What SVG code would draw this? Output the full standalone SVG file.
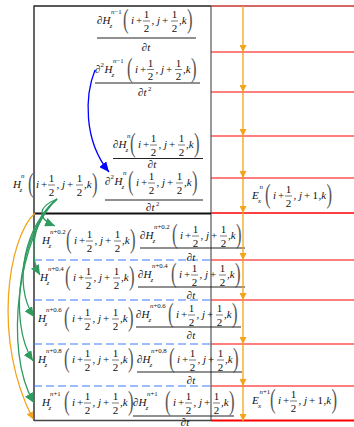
<svg xmlns="http://www.w3.org/2000/svg" width="354" height="427" viewBox="0 0 354 427">
<style>
text{font-family:"Liberation Serif","Times New Roman",serif;fill:#111}
.i{font-size:11px;font-style:italic}
.r{font-size:11px}
.s{font-size:6.8px}
.si{font-size:7px;font-style:italic}
.p{font-size:28px;fill:#555}
.fb{stroke:#222;stroke-width:0.6}
.bar{stroke:#222;stroke-width:1}
.red{stroke:#ff0000;stroke-width:1.2}
.dash{stroke:#3d7bff;stroke-width:1.2;stroke-dasharray:8 4}
.or{stroke:#f5a31a;stroke-width:1.3;marker-end:url(#ao)}
.gr{stroke:#2e9b5f;stroke-width:1.3;fill:none;marker-end:url(#ag)}
</style>
<defs>
<marker id="ao" markerWidth="7" markerHeight="7" refX="7" refY="3.5" orient="auto" markerUnits="userSpaceOnUse"><path d="M0,0 L7,3.5 L0,7 z" fill="#f5a31a"/></marker>
<marker id="ag" markerWidth="10" markerHeight="9" refX="10" refY="4.5" orient="auto" markerUnits="userSpaceOnUse"><path d="M0,0 L10,4.5 L0,9 z" fill="#2e9b5f"/></marker>
<marker id="ab" markerWidth="10" markerHeight="9" refX="10" refY="4.5" orient="auto" markerUnits="userSpaceOnUse"><path d="M0,0 L10,4.5 L0,9 z" fill="#0000ff"/></marker>
</defs>
<rect width="354" height="427" fill="#fff"/>

<g id="grid">
<line x1="34" y1="6" x2="211" y2="6" stroke="#222" stroke-width="1.5"/>
<line x1="211" y1="6" x2="354" y2="6" stroke="#c83232" stroke-width="1.6"/>
<line x1="34" y1="5.5" x2="34" y2="421" stroke="#333" stroke-width="1.5"/>
<line x1="211" y1="6" x2="211" y2="421" stroke="#555" stroke-width="1.2"/>
<line x1="34" y1="213.5" x2="211" y2="213.5" stroke="#111" stroke-width="2"/>
<line x1="34" y1="420.5" x2="211" y2="420.5" stroke="#444" stroke-width="1.5"/>
<line class="red" x1="211" y1="52" x2="354" y2="52"/>
<line class="red" x1="211" y1="92" x2="354" y2="92"/>
<line class="red" x1="211" y1="136" x2="354" y2="136"/>
<line class="red" x1="211" y1="178" x2="354" y2="178"/>
<line class="red" x1="211" y1="213" x2="354" y2="213" style="stroke-width:1.6"/>
<line class="red" x1="211" y1="260" x2="354" y2="260"/>
<line class="red" x1="211" y1="300" x2="354" y2="300"/>
<line class="red" x1="211" y1="344" x2="354" y2="344"/>
<line class="red" x1="211" y1="386" x2="354" y2="386"/>
<line class="red" x1="211" y1="420.5" x2="354" y2="420.5" style="stroke-width:1.8"/>
<line class="dash" x1="34" y1="260" x2="211" y2="260"/>
<line class="dash" x1="34" y1="300" x2="211" y2="300"/>
<line class="dash" x1="34" y1="344" x2="211" y2="344"/>
<line class="dash" x1="34" y1="386" x2="211" y2="386"/>
</g>

<g id="f1">
<g transform="translate(97,21)">
<text class="i" x="0" y="3"><tspan font-style="normal">∂</tspan>H</text>
<text class="s" x="14" y="-7"><tspan font-style="italic">n</tspan>−1</text>
<text class="si" x="12.5" y="7">z</text>
</g>
<g transform="translate(123,21)">
<text class="p" transform="translate(0,7) scale(0.6,1)">(</text>
<text class="i" x="8" y="3">i</text>
<text class="r" x="13" y="3">+</text>
<text class="r" x="23.5" y="-3" text-anchor="middle">1</text>
<line class="fb" x1="20" y1="0" x2="27" y2="0"/>
<text class="r" x="23.5" y="10.5" text-anchor="middle">2</text>
<text class="i" x="28.5" y="3">, j</text>
<text class="r" x="39" y="3">+</text>
<text class="r" x="51.5" y="-3" text-anchor="middle">1</text>
<line class="fb" x1="48" y1="0" x2="55" y2="0"/>
<text class="r" x="51.5" y="10.5" text-anchor="middle">2</text>
<text class="i" x="56" y="3">,k</text>
<text class="p" transform="translate(64,7) scale(0.6,1)">)</text>
</g>
<line class="bar" x1="97" y1="38" x2="196" y2="38"/>
<text class="i" x="146" y="51" text-anchor="middle"><tspan font-style="normal">∂</tspan>t</text>
</g>

<g id="f2">
<g transform="translate(95,69.5)">
<text class="r" x="0" y="3">∂</text>
<text class="s" x="5.5" y="-3">2</text>
<text class="i" x="9.5" y="3">H</text>
<text class="s" x="18" y="-7"><tspan font-style="italic">n</tspan>−1</text>
<text class="si" x="16.5" y="7">z</text>
</g>
<g transform="translate(127,69.5)">
<text class="p" transform="translate(0,7) scale(0.6,1)">(</text>
<text class="i" x="8" y="3">i</text>
<text class="r" x="13" y="3">+</text>
<text class="r" x="23.5" y="-3" text-anchor="middle">1</text>
<line class="fb" x1="20" y1="0" x2="27" y2="0"/>
<text class="r" x="23.5" y="10.5" text-anchor="middle">2</text>
<text class="i" x="28.5" y="3">, j</text>
<text class="r" x="39" y="3">+</text>
<text class="r" x="51.5" y="-3" text-anchor="middle">1</text>
<line class="fb" x1="48" y1="0" x2="55" y2="0"/>
<text class="r" x="51.5" y="10.5" text-anchor="middle">2</text>
<text class="i" x="56" y="3">,k</text>
<text class="p" transform="translate(64,7) scale(0.6,1)">)</text>
</g>
<line class="bar" x1="95" y1="83" x2="200" y2="83"/>
<text class="i" x="138" y="96"><tspan font-style="normal">∂</tspan>t</text>
<text class="s" x="148" y="91">2</text>
</g>

<g id="f3">
<g transform="translate(113,145)">
<text class="i" x="0" y="3"><tspan font-style="normal">∂</tspan>H</text>
<text class="si" x="14" y="-7">n</text>
<text class="si" x="12.5" y="7">z</text>
</g>
<g transform="translate(130,145)">
<text class="p" transform="translate(0,7) scale(0.6,1)">(</text>
<text class="i" x="8" y="3">i</text>
<text class="r" x="13" y="3">+</text>
<text class="r" x="23.5" y="-3" text-anchor="middle">1</text>
<line class="fb" x1="20" y1="0" x2="27" y2="0"/>
<text class="r" x="23.5" y="10.5" text-anchor="middle">2</text>
<text class="i" x="28.5" y="3">, j</text>
<text class="r" x="39" y="3">+</text>
<text class="r" x="51.5" y="-3" text-anchor="middle">1</text>
<line class="fb" x1="48" y1="0" x2="55" y2="0"/>
<text class="r" x="51.5" y="10.5" text-anchor="middle">2</text>
<text class="i" x="56" y="3">,k</text>
<text class="p" transform="translate(64,7) scale(0.6,1)">)</text>
</g>
<line class="bar" x1="113" y1="158.5" x2="203" y2="158.5"/>
<text class="i" x="152" y="168" text-anchor="middle"><tspan font-style="normal">∂</tspan>t</text>
</g>

<g id="f4">
<g transform="translate(105,182)">
<text class="r" x="0" y="3">∂</text>
<text class="s" x="5.5" y="-3">2</text>
<text class="i" x="9.5" y="3">H</text>
<text class="si" x="18" y="-7">n</text>
<text class="si" x="16.5" y="7">z</text>
</g>
<g transform="translate(128,183)">
<text class="p" transform="translate(0,7) scale(0.6,1)">(</text>
<text class="i" x="8" y="3">i</text>
<text class="r" x="13" y="3">+</text>
<text class="r" x="23.5" y="-3" text-anchor="middle">1</text>
<line class="fb" x1="20" y1="0" x2="27" y2="0"/>
<text class="r" x="23.5" y="10.5" text-anchor="middle">2</text>
<text class="i" x="28.5" y="3">, j</text>
<text class="r" x="39" y="3">+</text>
<text class="r" x="51.5" y="-3" text-anchor="middle">1</text>
<line class="fb" x1="48" y1="0" x2="55" y2="0"/>
<text class="r" x="51.5" y="10.5" text-anchor="middle">2</text>
<text class="i" x="56" y="3">,k</text>
<text class="p" transform="translate(64,7) scale(0.6,1)">)</text>
</g>
<line class="bar" x1="105" y1="200" x2="203" y2="200"/>
<text class="i" x="146" y="211"><tspan font-style="normal">∂</tspan>t</text>
<text class="s" x="156" y="206">2</text>
</g>

<g id="hn">
<g transform="translate(13,185)">
<text class="i" x="0" y="3">H</text>
<text class="si" x="8" y="-7">n</text>
<text class="si" x="6.5" y="7">z</text>
</g>
<g transform="translate(28,185)">
<text class="p" transform="translate(0,7) scale(0.6,1)">(</text>
<text class="i" x="8" y="3">i</text>
<text class="r" x="13" y="3">+</text>
<text class="r" x="23.5" y="-3" text-anchor="middle">1</text>
<line class="fb" x1="20" y1="0" x2="27" y2="0"/>
<text class="r" x="23.5" y="10.5" text-anchor="middle">2</text>
<text class="i" x="28.5" y="3">, j</text>
<text class="r" x="39" y="3">+</text>
<text class="r" x="51.5" y="-3" text-anchor="middle">1</text>
<line class="fb" x1="48" y1="0" x2="55" y2="0"/>
<text class="r" x="51.5" y="10.5" text-anchor="middle">2</text>
<text class="i" x="56" y="3">,k</text>
<text class="p" transform="translate(64,7) scale(0.6,1)">)</text>
</g>
</g>

<g id="e1">
<g transform="translate(252,196)">
<text class="i" x="0" y="3">E</text>
<text class="si" x="7.5" y="-7">n</text>
<text class="si" x="6" y="7">x</text>
</g>
<g transform="translate(265,196)">
<text class="p" transform="translate(0,7) scale(0.6,1)">(</text>
<text class="i" x="8" y="3">i</text>
<text class="r" x="13" y="3">+</text>
<text class="r" x="23.5" y="-3" text-anchor="middle">1</text>
<line class="fb" x1="20" y1="0" x2="27" y2="0"/>
<text class="r" x="23.5" y="10.5" text-anchor="middle">2</text>
<text class="i" x="28.5" y="3">, j</text>
<text class="r" x="39" y="3">+</text>
<text class="r" x="47.5" y="3">1</text>
<text class="i" x="53.5" y="3">,k</text>
<text class="p" transform="translate(61.5,7) scale(0.6,1)">)</text>
</g>
</g>

<g id="e2">
<g transform="translate(252,401)">
<text class="i" x="0" y="3">E</text>
<text class="s" x="7.5" y="-7"><tspan font-style="italic">n</tspan>+1</text>
<text class="si" x="6" y="7">x</text>
</g>
<g transform="translate(270,401)">
<text class="p" transform="translate(0,7) scale(0.6,1)">(</text>
<text class="i" x="8" y="3">i</text>
<text class="r" x="13" y="3">+</text>
<text class="r" x="23.5" y="-3" text-anchor="middle">1</text>
<line class="fb" x1="20" y1="0" x2="27" y2="0"/>
<text class="r" x="23.5" y="10.5" text-anchor="middle">2</text>
<text class="i" x="28.5" y="3">, j</text>
<text class="r" x="39" y="3">+</text>
<text class="r" x="47.5" y="3">1</text>
<text class="i" x="53.5" y="3">,k</text>
<text class="p" transform="translate(61.5,7) scale(0.6,1)">)</text>
</g>
</g>

<g id="h1">
<g transform="translate(42,241)">
<text class="i" x="0" y="3">H</text>
<text class="s" x="8" y="-7"><tspan font-style="italic">n</tspan>+0.2</text>
<text class="si" x="6.5" y="7">z</text>
</g>
<g transform="translate(66,241)">
<text class="p" transform="translate(0,7) scale(0.6,1)">(</text>
<text class="i" x="8" y="3">i</text>
<text class="r" x="13" y="3">+</text>
<text class="r" x="23.5" y="-3" text-anchor="middle">1</text>
<line class="fb" x1="20" y1="0" x2="27" y2="0"/>
<text class="r" x="23.5" y="10.5" text-anchor="middle">2</text>
<text class="i" x="28.5" y="3">, j</text>
<text class="r" x="39" y="3">+</text>
<text class="r" x="51.5" y="-3" text-anchor="middle">1</text>
<line class="fb" x1="48" y1="0" x2="55" y2="0"/>
<text class="r" x="51.5" y="10.5" text-anchor="middle">2</text>
<text class="i" x="56" y="3">,k</text>
<text class="p" transform="translate(64,7) scale(0.6,1)">)</text>
</g>
</g>

<g id="d1">
<g transform="translate(140,236)">
<text class="i" x="0" y="3"><tspan font-style="normal">∂</tspan>H</text>
<text class="s" x="14" y="-7"><tspan font-style="italic">n</tspan>+0.2</text>
<text class="si" x="12.5" y="7">z</text>
</g>
<g transform="translate(172,236)">
<text class="p" transform="translate(0,7) scale(0.6,1)">(</text>
<text class="i" x="8" y="3">i</text>
<text class="r" x="13" y="3">+</text>
<text class="r" x="23.5" y="-3" text-anchor="middle">1</text>
<line class="fb" x1="20" y1="0" x2="27" y2="0"/>
<text class="r" x="23.5" y="10.5" text-anchor="middle">2</text>
<text class="i" x="28.5" y="3">, j</text>
<text class="r" x="39" y="3">+</text>
<text class="r" x="51.5" y="-3" text-anchor="middle">1</text>
<line class="fb" x1="48" y1="0" x2="55" y2="0"/>
<text class="r" x="51.5" y="10.5" text-anchor="middle">2</text>
<text class="i" x="56" y="3">,k</text>
<text class="p" transform="translate(64,7) scale(0.6,1)">)</text>
</g>
<line class="bar" x1="140" y1="248" x2="245" y2="248"/>
<text class="i" x="191" y="261" text-anchor="middle"><tspan font-style="normal">∂</tspan>t</text>
</g>

<g id="h2">
<g transform="translate(40,278)">
<text class="i" x="0" y="3">H</text>
<text class="s" x="8" y="-7"><tspan font-style="italic">n</tspan>+0.4</text>
<text class="si" x="6.5" y="7">z</text>
</g>
<g transform="translate(65,278)">
<text class="p" transform="translate(0,7) scale(0.6,1)">(</text>
<text class="i" x="8" y="3">i</text>
<text class="r" x="13" y="3">+</text>
<text class="r" x="23.5" y="-3" text-anchor="middle">1</text>
<line class="fb" x1="20" y1="0" x2="27" y2="0"/>
<text class="r" x="23.5" y="10.5" text-anchor="middle">2</text>
<text class="i" x="28.5" y="3">, j</text>
<text class="r" x="39" y="3">+</text>
<text class="r" x="51.5" y="-3" text-anchor="middle">1</text>
<line class="fb" x1="48" y1="0" x2="55" y2="0"/>
<text class="r" x="51.5" y="10.5" text-anchor="middle">2</text>
<text class="i" x="56" y="3">,k</text>
<text class="p" transform="translate(64,7) scale(0.6,1)">)</text>
</g>
</g>

<g id="d2">
<g transform="translate(138,275)">
<text class="i" x="0" y="3"><tspan font-style="normal">∂</tspan>H</text>
<text class="s" x="14" y="-7"><tspan font-style="italic">n</tspan>+0.4</text>
<text class="si" x="12.5" y="7">z</text>
</g>
<g transform="translate(171,275)">
<text class="p" transform="translate(0,7) scale(0.6,1)">(</text>
<text class="i" x="8" y="3">i</text>
<text class="r" x="13" y="3">+</text>
<text class="r" x="23.5" y="-3" text-anchor="middle">1</text>
<line class="fb" x1="20" y1="0" x2="27" y2="0"/>
<text class="r" x="23.5" y="10.5" text-anchor="middle">2</text>
<text class="i" x="28.5" y="3">, j</text>
<text class="r" x="39" y="3">+</text>
<text class="r" x="51.5" y="-3" text-anchor="middle">1</text>
<line class="fb" x1="48" y1="0" x2="55" y2="0"/>
<text class="r" x="51.5" y="10.5" text-anchor="middle">2</text>
<text class="i" x="56" y="3">,k</text>
<text class="p" transform="translate(64,7) scale(0.6,1)">)</text>
</g>
<line class="bar" x1="138" y1="287" x2="245" y2="287"/>
<text class="i" x="191" y="299" text-anchor="middle"><tspan font-style="normal">∂</tspan>t</text>
</g>

<g id="h3">
<g transform="translate(38,319)">
<text class="i" x="0" y="3">H</text>
<text class="s" x="8" y="-7"><tspan font-style="italic">n</tspan>+0.6</text>
<text class="si" x="6.5" y="7">z</text>
</g>
<g transform="translate(64,319)">
<text class="p" transform="translate(0,7) scale(0.6,1)">(</text>
<text class="i" x="8" y="3">i</text>
<text class="r" x="13" y="3">+</text>
<text class="r" x="23.5" y="-3" text-anchor="middle">1</text>
<line class="fb" x1="20" y1="0" x2="27" y2="0"/>
<text class="r" x="23.5" y="10.5" text-anchor="middle">2</text>
<text class="i" x="28.5" y="3">, j</text>
<text class="r" x="39" y="3">+</text>
<text class="r" x="51.5" y="-3" text-anchor="middle">1</text>
<line class="fb" x1="48" y1="0" x2="55" y2="0"/>
<text class="r" x="51.5" y="10.5" text-anchor="middle">2</text>
<text class="i" x="56" y="3">,k</text>
<text class="p" transform="translate(64,7) scale(0.6,1)">)</text>
</g>
</g>

<g id="d3">
<g transform="translate(136,315)">
<text class="i" x="0" y="3"><tspan font-style="normal">∂</tspan>H</text>
<text class="s" x="14" y="-7"><tspan font-style="italic">n</tspan>+0.6</text>
<text class="si" x="12.5" y="7">z</text>
</g>
<g transform="translate(168,315)">
<text class="p" transform="translate(0,7) scale(0.6,1)">(</text>
<text class="i" x="8" y="3">i</text>
<text class="r" x="13" y="3">+</text>
<text class="r" x="23.5" y="-3" text-anchor="middle">1</text>
<line class="fb" x1="20" y1="0" x2="27" y2="0"/>
<text class="r" x="23.5" y="10.5" text-anchor="middle">2</text>
<text class="i" x="28.5" y="3">, j</text>
<text class="r" x="39" y="3">+</text>
<text class="r" x="51.5" y="-3" text-anchor="middle">1</text>
<line class="fb" x1="48" y1="0" x2="55" y2="0"/>
<text class="r" x="51.5" y="10.5" text-anchor="middle">2</text>
<text class="i" x="56" y="3">,k</text>
<text class="p" transform="translate(64,7) scale(0.6,1)">)</text>
</g>
<line class="bar" x1="136" y1="327" x2="241" y2="327"/>
<text class="i" x="191" y="339" text-anchor="middle"><tspan font-style="normal">∂</tspan>t</text>
</g>

<g id="h4">
<g transform="translate(38,360)">
<text class="i" x="0" y="3">H</text>
<text class="s" x="8" y="-7"><tspan font-style="italic">n</tspan>+0.8</text>
<text class="si" x="6.5" y="7">z</text>
</g>
<g transform="translate(64,360)">
<text class="p" transform="translate(0,7) scale(0.6,1)">(</text>
<text class="i" x="8" y="3">i</text>
<text class="r" x="13" y="3">+</text>
<text class="r" x="23.5" y="-3" text-anchor="middle">1</text>
<line class="fb" x1="20" y1="0" x2="27" y2="0"/>
<text class="r" x="23.5" y="10.5" text-anchor="middle">2</text>
<text class="i" x="28.5" y="3">, j</text>
<text class="r" x="39" y="3">+</text>
<text class="r" x="51.5" y="-3" text-anchor="middle">1</text>
<line class="fb" x1="48" y1="0" x2="55" y2="0"/>
<text class="r" x="51.5" y="10.5" text-anchor="middle">2</text>
<text class="i" x="56" y="3">,k</text>
<text class="p" transform="translate(64,7) scale(0.6,1)">)</text>
</g>
</g>

<g id="d4">
<g transform="translate(137,360)">
<text class="i" x="0" y="3"><tspan font-style="normal">∂</tspan>H</text>
<text class="s" x="14" y="-7"><tspan font-style="italic">n</tspan>+0.8</text>
<text class="si" x="12.5" y="7">z</text>
</g>
<g transform="translate(169,360)">
<text class="p" transform="translate(0,7) scale(0.6,1)">(</text>
<text class="i" x="8" y="3">i</text>
<text class="r" x="13" y="3">+</text>
<text class="r" x="23.5" y="-3" text-anchor="middle">1</text>
<line class="fb" x1="20" y1="0" x2="27" y2="0"/>
<text class="r" x="23.5" y="10.5" text-anchor="middle">2</text>
<text class="i" x="28.5" y="3">, j</text>
<text class="r" x="39" y="3">+</text>
<text class="r" x="51.5" y="-3" text-anchor="middle">1</text>
<line class="fb" x1="48" y1="0" x2="55" y2="0"/>
<text class="r" x="51.5" y="10.5" text-anchor="middle">2</text>
<text class="i" x="56" y="3">,k</text>
<text class="p" transform="translate(64,7) scale(0.6,1)">)</text>
</g>
<line class="bar" x1="137" y1="372" x2="242" y2="372"/>
<text class="i" x="191" y="384" text-anchor="middle"><tspan font-style="normal">∂</tspan>t</text>
</g>

<g id="h5">
<g transform="translate(42,403)">
<text class="i" x="0" y="3">H</text>
<text class="s" x="8" y="-7"><tspan font-style="italic">n</tspan>+1</text>
<text class="si" x="6.5" y="7">z</text>
</g>
<g transform="translate(64,403)">
<text class="p" transform="translate(0,7) scale(0.6,1)">(</text>
<text class="i" x="8" y="3">i</text>
<text class="r" x="13" y="3">+</text>
<text class="r" x="23.5" y="-3" text-anchor="middle">1</text>
<line class="fb" x1="20" y1="0" x2="27" y2="0"/>
<text class="r" x="23.5" y="10.5" text-anchor="middle">2</text>
<text class="i" x="28.5" y="3">, j</text>
<text class="r" x="39" y="3">+</text>
<text class="r" x="51.5" y="-3" text-anchor="middle">1</text>
<line class="fb" x1="48" y1="0" x2="55" y2="0"/>
<text class="r" x="51.5" y="10.5" text-anchor="middle">2</text>
<text class="i" x="56" y="3">,k</text>
<text class="p" transform="translate(64,7) scale(0.6,1)">)</text>
</g>
</g>

<g id="d5">
<g transform="translate(133,403)">
<text class="i" x="0" y="3"><tspan font-style="normal">∂</tspan>H</text>
<text class="s" x="14" y="-7"><tspan font-style="italic">n</tspan>+1</text>
<text class="si" x="12.5" y="7">z</text>
</g>
<g transform="translate(165,403)">
<text class="p" transform="translate(0,7) scale(0.6,1)">(</text>
<text class="i" x="8" y="3">i</text>
<text class="r" x="13" y="3">+</text>
<text class="r" x="23.5" y="-3" text-anchor="middle">1</text>
<line class="fb" x1="20" y1="0" x2="27" y2="0"/>
<text class="r" x="23.5" y="10.5" text-anchor="middle">2</text>
<text class="i" x="28.5" y="3">, j</text>
<text class="r" x="39" y="3">+</text>
<text class="r" x="51.5" y="-3" text-anchor="middle">1</text>
<line class="fb" x1="48" y1="0" x2="55" y2="0"/>
<text class="r" x="51.5" y="10.5" text-anchor="middle">2</text>
<text class="i" x="56" y="3">,k</text>
<text class="p" transform="translate(64,7) scale(0.6,1)">)</text>
</g>
<line class="bar" x1="133" y1="416" x2="234" y2="416"/>
<text class="i" x="185" y="426" text-anchor="middle"><tspan font-style="normal">∂</tspan>t</text>
</g>

<g id="connectors">
<line class="or" x1="243" y1="6" x2="243" y2="52"/>
<line class="or" x1="243" y1="52" x2="243" y2="92"/>
<line class="or" x1="243" y1="92" x2="243" y2="136"/>
<line class="or" x1="243" y1="136" x2="243" y2="178"/>
<line class="or" x1="243" y1="178" x2="243" y2="213"/>
<line class="or" x1="243" y1="213" x2="243" y2="260"/>
<line class="or" x1="243" y1="260" x2="243" y2="300"/>
<line class="or" x1="243" y1="300" x2="243" y2="344"/>
<line class="or" x1="243" y1="344" x2="243" y2="386"/>
<line class="or" x1="243" y1="386" x2="243" y2="421"/>
<path d="M95,70 C85,95 83,140 109,172" fill="none" stroke="#0000ff" stroke-width="1.3" marker-end="url(#ab)"/>
<path class="gr" d="M57,199 C38,207 36,218 55,226"/>
<path class="gr" d="M57,199 C33,218 28,255 40,275"/>
<path class="gr" d="M57,199 C25,225 12,285 34,317"/>
<path class="gr" d="M57,199 C22,228 6,320 33,361"/>
<path class="gr" d="M57,199 C20,232 2,350 34,403"/>
<path d="M35,213 C8,238 -8,340 33,419" fill="none" stroke="#f5a31a" stroke-width="1.3" marker-end="url(#ao)"/>
</g>
</svg>
